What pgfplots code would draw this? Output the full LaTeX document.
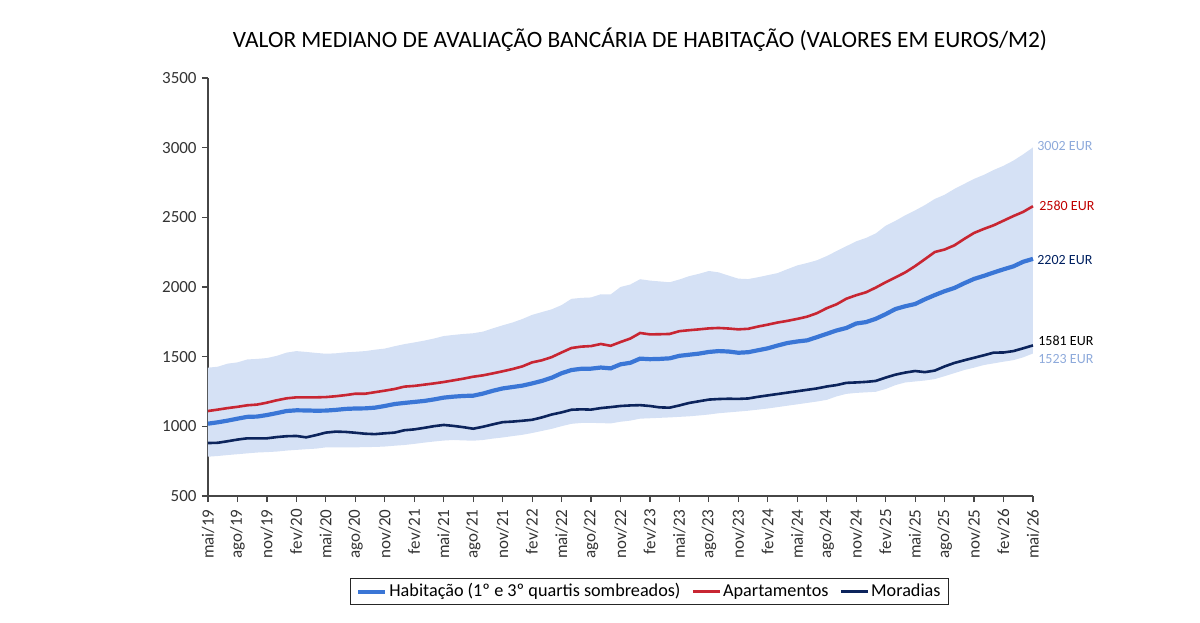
\documentclass[border=0pt]{standalone}
\usepackage{pgfplots}
\pgfplotsset{compat=1.18}
\usepackage{pgfplotstable}
\usepgfplotslibrary{fillbetween}
\usepackage{fontspec}
\setmainfont{Carlito}
\definecolor{bandcol}{RGB}{213,225,245}
\definecolor{habcol}{RGB}{58,118,214}
\definecolor{aptcol}{RGB}{200,38,50}
\definecolor{morcol}{RGB}{12,36,92}
\definecolor{lblblue}{RGB}{142,170,219}
\definecolor{lblred}{RGB}{192,0,0}
\definecolor{lblnavy}{RGB}{0,32,96}
\definecolor{axcol}{RGB}{70,70,70}
\pgfplotstableread{
i lo up hab apt mor
0 782 1421 1019 1110 880
1 787 1428 1029 1120 882
2 794 1450 1041 1131 893
3 800 1459 1055 1140 905
4 806 1480 1068 1151 914
5 812 1484 1070 1156 914
6 815 1490 1081 1170 914
7 819 1506 1095 1187 923
8 826 1529 1110 1201 929
9 831 1540 1115 1208 931
10 836 1534 1114 1208 921
11 840 1527 1112 1208 937
12 849 1521 1113 1210 955
13 849 1524 1118 1216 962
14 849 1531 1125 1224 960
15 849 1535 1128 1234 954
16 851 1540 1129 1234 947
17 852 1550 1134 1245 944
18 855 1558 1146 1256 950
19 861 1575 1160 1268 955
20 866 1590 1168 1285 972
21 874 1602 1175 1290 978
22 883 1615 1182 1299 989
23 891 1630 1193 1308 1001
24 898 1648 1206 1318 1010
25 902 1656 1213 1330 1003
26 899 1663 1218 1342 994
27 897 1668 1220 1356 983
28 902 1680 1235 1366 997
29 912 1703 1255 1380 1014
30 920 1725 1272 1395 1030
31 930 1745 1282 1411 1034
32 939 1770 1292 1430 1040
33 952 1800 1308 1459 1047
34 967 1820 1326 1474 1064
35 982 1840 1349 1497 1085
36 1001 1870 1381 1530 1100
37 1018 1915 1404 1562 1119
38 1024 1922 1413 1572 1122
39 1025 1925 1414 1576 1120
40 1023 1948 1422 1591 1131
41 1021 1947 1416 1578 1138
42 1033 2000 1445 1605 1146
43 1041 2018 1456 1630 1150
44 1055 2056 1486 1670 1152
45 1058 2046 1482 1660 1146
46 1061 2040 1484 1661 1136
47 1064 2034 1488 1663 1134
48 1068 2054 1506 1683 1150
49 1072 2078 1514 1690 1168
50 1078 2095 1522 1696 1180
51 1085 2115 1534 1703 1192
52 1094 2105 1540 1706 1196
53 1100 2082 1537 1702 1198
54 1106 2060 1528 1696 1197
55 1112 2057 1532 1700 1200
56 1120 2070 1546 1716 1212
57 1128 2085 1560 1730 1222
58 1138 2100 1580 1745 1232
59 1148 2128 1598 1757 1242
60 1158 2155 1609 1771 1252
61 1168 2172 1617 1787 1262
62 1178 2192 1640 1812 1272
63 1190 2222 1664 1848 1286
64 1215 2258 1688 1876 1296
65 1233 2293 1706 1916 1312
66 1240 2328 1738 1941 1315
67 1244 2352 1748 1962 1319
68 1248 2385 1772 1996 1326
69 1268 2440 1805 2034 1350
70 1296 2475 1842 2069 1371
71 1315 2515 1862 2105 1386
72 1322 2550 1878 2150 1397
73 1329 2588 1912 2200 1389
74 1339 2632 1942 2251 1400
75 1360 2662 1970 2269 1430
76 1382 2704 1993 2299 1455
77 1404 2740 2027 2345 1474
78 1421 2776 2058 2388 1492
79 1440 2805 2080 2417 1510
80 1452 2840 2104 2443 1529
81 1464 2870 2127 2476 1530
82 1475 2907 2148 2509 1540
83 1495 2952 2181 2539 1560
84 1523 3002 2202 2580 1581
}\datatable
\begin{document}
\begin{tikzpicture}
\begin{axis}[
  scale only axis,
  width=412.5pt, height=209pt,
  xmin=0, xmax=84, ymin=500, ymax=3500,
  axis lines=left,
  axis line style={-, draw=axcol, line width=0.6pt},
  tick style={draw=axcol, line width=0.6pt},
  tick align=outside,
  major tick length=3pt,
  xtick={0,3,...,84},
  xticklabels={mai/19,ago/19,nov/19,fev/20,mai/20,ago/20,nov/20,fev/21,mai/21,ago/21,nov/21,fev/22,mai/22,ago/22,nov/22,fev/23,mai/23,ago/23,nov/23,fev/24,mai/24,ago/24,nov/24,fev/25,mai/25,ago/25,nov/25,fev/26,mai/26},
  xticklabel style={rotate=90, anchor=east, font=\fontsize{8.5}{9}\selectfont, text=black!80, inner sep=3.5pt},
  ytick={500,1000,...,3500},
  yticklabel style={font=\fontsize{8.5}{9}\selectfont, text=black!80, inner sep=2.5pt},
  /pgf/number format/assume math mode=true,
  /pgf/number format/1000 sep={},
  clip=false,
  legend columns=3,
  legend style={at={(0.535,-0.229)}, anchor=center, draw=black!85, line width=0.6pt,
    font=\fontsize{9.1}{10}\selectfont, inner xsep=3pt, inner ysep=0.5pt,
    nodes={inner xsep=1pt, inner ysep=2pt},
    /tikz/every even column/.append style={column sep=4.5pt}},
  legend cell align=left,
  legend image code/.code={\draw[#1] (0pt,0pt) -- (13.5pt,0pt);},
]
\addplot[name path=up, draw=none, forget plot] table[x=i, y=up] {\datatable};
\addplot[name path=lo, draw=none, forget plot] table[x=i, y=lo] {\datatable};
\addplot[fill=bandcol, draw=none, forget plot] fill between[of=up and lo];
\addplot[habcol, line width=2.1pt] table[x=i, y=hab] {\datatable};
\addlegendentry{Habitação (1º e 3º quartis sombreados)}
\addplot[aptcol, line width=1.3pt] table[x=i, y=apt] {\datatable};
\addlegendentry{Apartamentos}
\addplot[morcol, line width=1.3pt] table[x=i, y=mor] {\datatable};
\addlegendentry{Moradias}
\node[text=lblblue, anchor=west, inner sep=0pt, font=\fontsize{7}{8}\selectfont] at (axis cs:84,3012) {\hspace{2pt}3002 EUR};
\node[text=lblred, anchor=west, inner sep=0pt, font=\fontsize{7}{8}\selectfont] at (axis cs:84,2581) {\hspace{3pt}2580 EUR};
\node[text=lblnavy, anchor=west, inner sep=0pt, font=\fontsize{7}{8}\selectfont] at (axis cs:84,2194) {\hspace{2pt}2202 EUR};
\node[text=black, anchor=west, inner sep=0pt, font=\fontsize{7}{8}\selectfont] at (axis cs:84,1612) {\hspace{2.5pt}1581 EUR};
\node[text=lblblue, anchor=west, inner sep=0pt, font=\fontsize{7}{8}\selectfont] at (axis cs:84,1483) {\hspace{2.5pt}1523 EUR};
\end{axis}
\node[font=\fontsize{11.7}{13}\selectfont, text=black] at (216pt,228pt) {VALOR MEDIANO DE AVALIAÇÃO BANCÁRIA DE HABITAÇÃO (VALORES EM EUROS/M2)};
\pgfresetboundingbox
\path[use as bounding box] (-104pt,-63pt) rectangle (496pt,248pt);
\end{tikzpicture}
\end{document}
